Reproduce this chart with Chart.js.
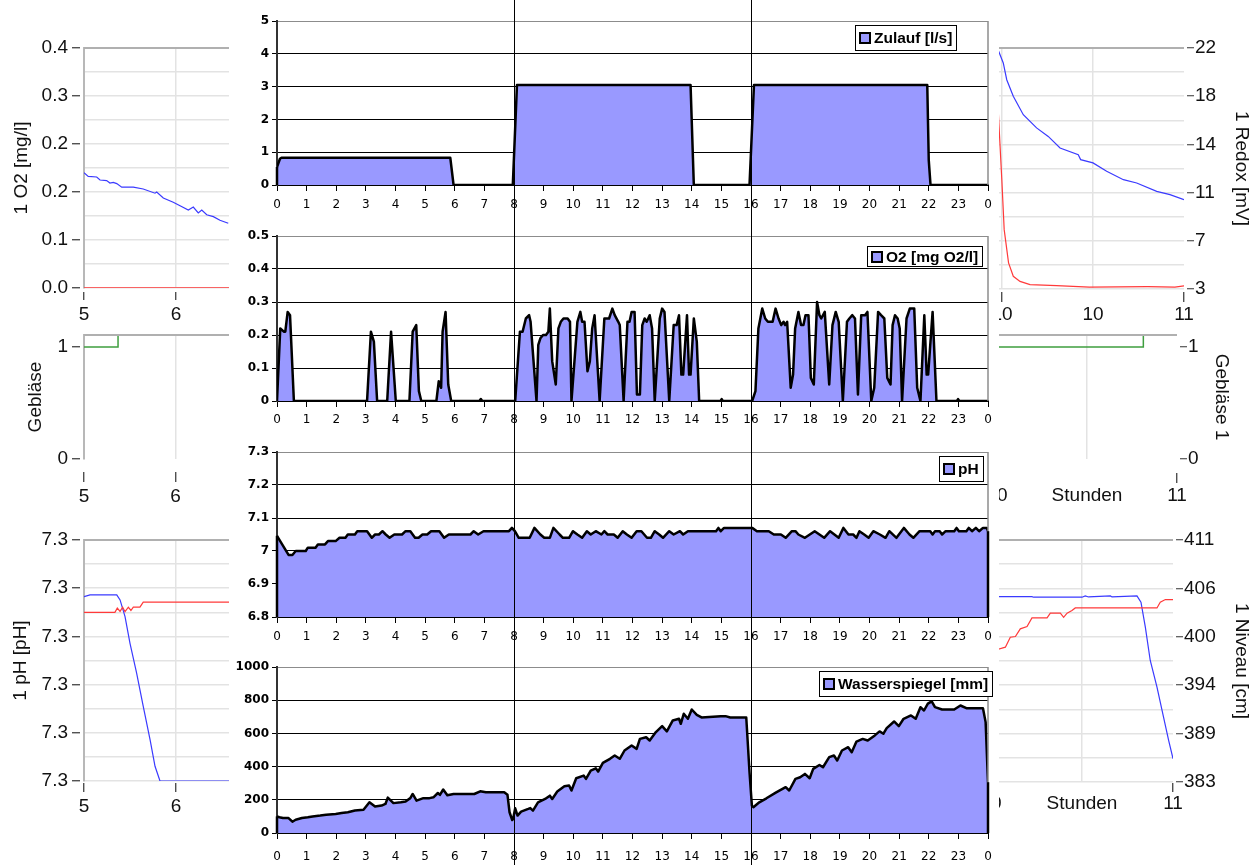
<!DOCTYPE html>
<html><head><meta charset="utf-8">
<script src="https://cdn.jsdelivr.net/npm/chart.js@4.4.1/dist/chart.umd.min.js"></script>
<style>
html,body{margin:0;padding:0;background:#fff;width:1260px;height:865px;overflow:hidden;}
.box{position:absolute;}
.side{z-index:1;}
.center{z-index:2;background:#fff;}
canvas{display:block;}
</style></head><body>
<script>
// ================= DATA =================
// central panels: x = hour of day (0..24), tick labels shown as hour % 24
const hourTicks = [0,1,2,3,4,5,6,7,8,9,10,11,12,13,14,15,16,17,18,19,20,21,22,23,24];
const splitHours = [8, 16];

const zulaufLabel = 'Zulauf [l/s]';
const zulaufTicks = [0,1,2,3,4,5];
const zulaufT = [0, 0.1, 0.15, 5.85, 5.96, 7.96, 8.1, 13.96, 14.07, 15.95, 16.1, 21.95, 22.0, 22.06, 24];
const zulaufV = [0.55, 0.8, 0.83, 0.83, 0, 0, 3.05, 3.05, 0, 0, 3.05, 3.05, 0.76, 0, 0];

const o2Label = 'O2 [mg O2/l]';
const o2Ticks = [0,0.1,0.2,0.3,0.4,0.5];
const o2T = [0,0.11,0.23,0.28,0.36,0.44,0.57,
 3.04,3.17,3.27,3.38, 3.72,3.85,4.01, 4.47,4.58,4.7,4.79,4.87,
 5.38,5.46,5.54,5.59,5.69,5.78,5.88, 6.83,6.88,6.93,
 8.04,8.2,8.29,8.4,8.51,8.56,8.76,
 8.82,8.89,8.98,9.08,9.16,9.21,9.29,9.41,9.5,9.58,9.67,9.81,9.89,9.94,
 10.14,10.24,10.3,10.38,10.48,10.56,10.64,10.72,10.89,
 11.05,11.12,11.21,11.32,11.4,11.52,11.57,11.7,
 11.83,11.9,11.97,12.07,12.15,12.25,12.33,12.41,12.48,12.58,12.66,12.75,
 12.92,13.0,13.08,13.24,
 13.39,13.49,13.57,13.65,13.71,13.84,13.91,13.96,14.07,14.17,14.25,
 14.97,15.01,15.05,
 16.04,16.15,16.25,16.38,16.48,16.57,16.73,16.83,16.93,17.02,17.1,17.15,17.22,17.34,17.42,17.49,17.6,17.69,17.77,17.84,17.94,18.02,18.12,18.23,18.31,18.37,18.49,18.64,18.75,18.86,18.96,19.1,
 19.24,19.32,19.42,19.51,19.61,19.72,19.85,19.93,20.06,
 20.16,20.29,20.39,20.5,20.6,20.71,20.78,20.86,20.95,21.02,21.1,
 21.25,21.36,21.51,21.61,21.72,21.85,21.93,21.98,22.13,22.26,
 22.95,22.99,23.03, 24];
const o2V = [0,0.22,0.21,0.21,0.27,0.26,0,
 0,0.21,0.18,0, 0,0.21,0, 0,0.21,0.23,0.03,0,
 0,0.06,0.04,0.21,0.27,0.05,0, 0,0.006,0,
 0,0.21,0.21,0.25,0.26,0.24,0,
 0.17,0.19,0.2,0.2,0.21,0.28,0.12,0.05,0.22,0.24,0.25,0.25,0.24,0,
 0.24,0.27,0.24,0.24,0.09,0.12,0.22,0.26,0,
 0.25,0.25,0.25,0.28,0.26,0.24,0.23,0,
 0.24,0.24,0.27,0.27,0.02,0.02,0.23,0.25,0.24,0.26,0.22,0,
 0.25,0.28,0.27,0,
 0.23,0.23,0.26,0.08,0.08,0.26,0.08,0.08,0.25,0.18,0,
 0,0.006,0,
 0,0.03,0.22,0.28,0.25,0.24,0.24,0.28,0.25,0.23,0.24,0.23,0.24,0.04,0.08,0.22,0.27,0.23,0.23,0.26,0.26,0.07,0.05,0.3,0.26,0.25,0.27,0.05,0.23,0.27,0.24,0,
 0.24,0.25,0.26,0.25,0.02,0.26,0.26,0.27,0,
 0.04,0.27,0.26,0.25,0.07,0.05,0.23,0.26,0.25,0.22,0,
 0.25,0.28,0.28,0.04,0,0.26,0.08,0.08,0.27,0,
 0,0.006,0, 0];

const phLabel = 'pH';
const phTicks = [6.8,6.9,7.0,7.1,7.2,7.3];
const phT = [0,0.39,0.52,0.63,0.97,1.04,1.3,1.38,1.62,1.72,1.98,2.11,2.31,2.39,2.63,2.71,3.04,3.2,3.31,3.44,3.56,3.67,3.8,3.96,4.22,4.34,4.5,4.66,4.78,4.91,5.07,5.2,5.48,5.64,5.8,6.53,6.64,6.79,6.97,7.83,7.93,8.03,8.16,8.53,8.69,8.89,9.02,9.21,9.33,9.54,9.65,9.86,9.99,10.14,10.3,10.46,10.59,10.76,10.95,11.05,11.16,11.37,11.5,11.67,11.81,11.97,12.14,12.3,12.49,12.62,12.75,12.9,13.03,13.24,13.39,13.6,13.71,13.87,14.82,14.9,14.98,15.09,16.04,16.2,16.6,16.77,17.01,17.17,17.38,17.5,17.6,17.82,18.15,18.31,18.47,18.67,18.96,19.12,19.29,19.45,19.56,19.66,19.82,19.97,20.13,20.35,20.54,20.67,20.91,21.16,21.35,21.48,21.69,22.05,22.13,22.21,22.37,22.45,22.57,22.86,22.94,23.02,23.27,23.35,23.46,23.59,23.7,23.83,23.96,24];
const phV = [7.046,6.988,6.988,7.0,7.0,7.01,7.01,7.02,7.02,7.03,7.03,7.04,7.04,7.05,7.05,7.06,7.06,7.04,7.05,7.05,7.06,7.05,7.04,7.05,7.05,7.06,7.06,7.04,7.04,7.05,7.05,7.06,7.06,7.04,7.05,7.05,7.06,7.05,7.06,7.06,7.07,7.06,7.04,7.04,7.07,7.05,7.04,7.04,7.07,7.05,7.04,7.04,7.06,7.05,7.04,7.06,7.05,7.06,7.05,7.06,7.05,7.05,7.04,7.06,7.05,7.04,7.06,7.06,7.04,7.04,7.06,7.05,7.04,7.06,7.05,7.06,7.05,7.06,7.06,7.07,7.06,7.07,7.07,7.06,7.06,7.05,7.05,7.04,7.06,7.06,7.05,7.04,7.06,7.05,7.04,7.06,7.04,7.07,7.05,7.05,7.04,7.06,7.05,7.04,7.06,7.05,7.04,7.06,7.04,7.07,7.05,7.04,7.06,7.06,7.05,7.06,7.06,7.05,7.06,7.06,7.07,7.06,7.06,7.07,7.06,7.07,7.06,7.07,7.07,7.06];

const wasserLabel = 'Wasserspiegel [mm]';
const wasserTicks = [0,200,400,600,800,1000];
const wasserT = [0,0.08,0.2,0.39,0.52,0.63,0.84,1.04,1.2,1.46,1.66,1.98,2.18,2.39,2.63,2.92,3.12,3.31,3.53,3.66,3.74,3.93,4.18,4.34,4.5,4.58,4.71,4.94,5.15,5.28,5.43,5.5,5.61,5.75,5.96,6.66,6.86,7.05,7.67,7.78,7.85,7.94,7.97,8.04,8.12,8.24,8.48,8.55,8.64,8.81,9.05,9.21,9.29,9.46,9.7,9.86,9.94,10.1,10.35,10.43,10.59,10.76,10.84,11.0,11.24,11.4,11.57,11.73,11.97,12.14,12.25,12.46,12.58,12.79,13.0,13.16,13.36,13.57,13.63,13.73,13.87,14.0,14.17,14.33,14.98,15.14,15.3,15.84,15.95,16.03,16.08,16.28,16.52,16.85,17.17,17.29,17.5,17.66,17.82,17.98,18.1,18.31,18.43,18.64,18.8,18.91,19.07,19.28,19.4,19.56,19.77,19.94,20.18,20.34,20.47,20.58,20.83,20.99,21.15,21.4,21.56,21.72,21.84,21.97,22.1,22.21,22.45,22.86,23.07,23.27,23.83,23.92,24.0];
const wasserV = [100,95,90,90,68,80,90,95,100,105,110,115,120,125,135,140,185,159,165,175,213,180,185,190,210,235,195,210,210,215,241,230,262,227,235,235,251,245,245,230,125,78,85,149,105,129,145,150,135,185,205,225,205,250,282,286,256,330,346,326,376,390,370,422,447,467,447,497,527,507,567,577,557,608,644,612,678,688,658,718,688,744,712,696,704,704,696,696,366,165,155,185,209,245,276,256,326,336,356,330,386,410,396,457,467,437,497,517,487,551,567,557,588,612,598,632,672,644,688,708,688,758,738,779,793,758,744,744,768,752,752,668,306];

// side panels (x = hours, ticks every half hour, labels rounded)
const o2LeftTitle = '1 O2 [mg/l]';
const o2LeftBlueT = [5.0,5.023,5.069,5.087,5.123,5.141,5.159,5.178,5.205,5.268,5.322,5.386,5.395,5.431,5.485,5.522,5.567,5.594,5.621,5.64,5.667,5.703,5.739,5.784];
const o2LeftBlueV = [0.192,0.186,0.185,0.180,0.179,0.175,0.176,0.174,0.168,0.168,0.165,0.158,0.160,0.150,0.143,0.137,0.130,0.135,0.125,0.130,0.122,0.119,0.113,0.108];
const o2LeftRedT = [5.0, 5.8];
const o2LeftRedV = [0, 0];

const gebLeftTitle = 'Gebläse';
const gebLeftT = [5.0, 5.186, 5.186, 6.0];
const gebLeftV = [1, 1, 2, 2];

const phLeftTitle = '1 pH [pH]';
const phLeftBlueT = [5.0,5.033,5.178,5.196,5.223,5.25,5.286,5.322,5.359,5.386,5.413,5.8];
const phLeftBlueV = [7.3212,7.3218,7.3218,7.3201,7.3146,7.3057,7.2958,7.2848,7.2737,7.2649,7.26,7.26];
const phLeftRedT = [5.0,5.168,5.181,5.196,5.21,5.223,5.241,5.255,5.268,5.304,5.322,5.8];
const phLeftRedV = [7.316,7.316,7.3174,7.3163,7.3177,7.3162,7.3177,7.3166,7.3177,7.3177,7.3194,7.3194];

const redoxTitle = '1 Redox [mV]';
const redoxBlueT = [9.48,9.507,9.526,9.562,9.617,9.69,9.754,9.819,9.919,9.932,10.0,10.075,10.167,10.24,10.35,10.423,10.5];
const redoxBlueV = [21.81,20.82,19.5,18.19,16.74,15.7,15.03,14.12,13.59,13.2,12.94,12.28,11.62,11.36,10.7,10.44,10.05];
const redoxRedT = [9.48,9.499,9.512,9.536,9.562,9.599,9.654,9.80,9.98,10.3,10.45,10.5];
const redoxRedV = [16.88,11.62,7.68,5.06,4.0,3.6,3.34,3.26,3.15,3.18,3.15,3.25];

const gebRightTitle = 'Gebläse 1';
const gebRightT = [9.24, 10.313, 10.313, 10.5];
const gebRightV = [1, 1, 2, 2];

const nivTitle = '1 Niveau [cm]';
const nivBlueT = [9.53,9.725,9.734,10.0,10.018,10.036,10.156,10.165,10.302,10.324,10.348,10.375,10.412,10.448,10.476,10.5];
const nivBlueV = [404.65,404.65,404.58,404.58,404.73,404.61,404.73,404.61,404.73,404.0,401.11,397.26,394.18,390.71,388.02,385.9];
const nivRedT = [9.53,9.579,9.606,9.634,9.661,9.698,9.725,9.808,9.826,9.881,9.899,9.918,9.945,9.963,10.412,10.43,10.458,10.5];
const nivRedV = [398.5,398.8,399.95,400.03,400.92,401.19,402.19,402.19,402.73,402.73,402.26,402.73,403.04,403.34,403.34,404.0,404.31,404.31];

const stundenLabel = 'Stunden';

// ================= HELPERS =================
const xy = (T, V) => T.map((t, i) => ({x: t, y: V[i]}));
const range = (a, b, n) => Array.from({length: n + 1}, (_, i) => a + (b - a) * i / n);
const forceTicks = arr => s => { s.ticks = arr.map(v => ({value: v})); };
const fixW = w => s => { s.width = w; };
const fixH = h => s => { s.height = h; };
const CLEAR = 'rgba(0,0,0,0)';

function place(box, cls) {
  const d = document.createElement('div');
  d.className = 'box ' + cls;
  d.style.left = box.left + 'px'; d.style.top = box.top + 'px';
  d.style.width = box.width + 'px'; d.style.height = box.height + 'px';
  const c = document.createElement('canvas');
  c.width = box.width; c.height = box.height;
  c.style.width = box.width + 'px'; c.style.height = box.height + 'px';
  d.appendChild(c); document.body.appendChild(d);
  return c;
}

// ================= PLUGINS =================
const dayLines = {
  id: 'dayLines',
  afterDatasetsDraw(chart, args, o) {
    if (!o || !o.values) return;
    const {ctx} = chart, xs = chart.scales.x;
    ctx.save(); ctx.strokeStyle = '#000'; ctx.lineWidth = 1;
    o.values.forEach(v => {
      const x = Math.round(xs.getPixelForValue(v)) + 0.5;
      ctx.beginPath(); ctx.moveTo(x, 0); ctx.lineTo(x, chart.height); ctx.stroke();
    });
    ctx.restore();
  }
};
const areaFrame = {
  id: 'areaFrame',
  afterDatasetsDraw(chart) {
    const {ctx, chartArea: a} = chart, xs = chart.scales.x, ys = chart.scales.y;
    ctx.save();
    ctx.strokeStyle = '#8c8c8c'; ctx.lineWidth = 1.5;
    ctx.beginPath(); ctx.moveTo(a.right, a.top); ctx.lineTo(a.right, a.bottom); ctx.stroke();
    const d = chart.data.datasets[0].data, base = ys.getPixelForValue(ys.min);
    ctx.strokeStyle = '#000'; ctx.lineWidth = 2.5;
    [d[0], d[d.length - 1]].forEach(p => {
      const x = xs.getPixelForValue(p.x);
      ctx.beginPath(); ctx.moveTo(x, ys.getPixelForValue(p.y)); ctx.lineTo(x, base); ctx.stroke();
    });
    ctx.restore();
  }
};
const boxLegend = {
  id: 'boxLegend',
  afterDraw(chart, args, o) {
    if (!o || o.right === undefined) return;
    const {ctx} = chart, ds = chart.data.datasets[0];
    ctx.save();
    ctx.font = 'bold 15.5px "Liberation Sans", Arial, sans-serif';
    const tw = ctx.measureText(ds.label).width;
    const icon = 10, padL = 5, gap = 4, padR = 5;
    const w = Math.round(padL + icon + gap + tw + padR);
    const x = o.right - o.offX - w, y = o.top - o.offY, h = o.height;
    ctx.fillStyle = '#fff'; ctx.fillRect(x, y, w, h);
    ctx.strokeStyle = '#000'; ctx.lineWidth = 1; ctx.strokeRect(x + 0.5, y + 0.5, w - 1, h - 1);
    const iy = Math.round(y + (h - icon) / 2);
    ctx.fillStyle = ds.backgroundColor; ctx.fillRect(x + padL, iy, icon, icon);
    ctx.lineWidth = 2; ctx.strokeStyle = '#000'; ctx.strokeRect(x + padL, iy, icon, icon);
    ctx.fillStyle = '#000'; ctx.textBaseline = 'middle'; ctx.textAlign = 'left';
    ctx.fillText(ds.label, x + padL + icon + gap, y + h / 2 + 1);
    ctx.restore();
  }
};
const sideTop = {
  id: 'sideTop',
  afterDraw(chart) {
    const {ctx, chartArea: a} = chart;
    ctx.save(); ctx.strokeStyle = '#b0b0b0'; ctx.lineWidth = 2;
    ctx.beginPath(); ctx.moveTo(a.left, Math.round(a.top)); ctx.lineTo(a.right, Math.round(a.top)); ctx.stroke();
    ctx.restore();
  }
};

// ================= CENTRAL CHARTS =================
function centralChart(box, area, T, V, label, yTicks, xDrop, legend) {
  const cv = place(box, 'center');
  const yMax = yTicks[yTicks.length - 1];
  return new Chart(cv, {
    type: 'line',
    data: {datasets: [{label, data: xy(T, V), borderColor: '#000', borderWidth: 2.5,
      backgroundColor: '#9999ff', fill: 'start', pointRadius: 0, tension: 0, borderJoinStyle: 'round'}]},
    options: {
      responsive: false, animation: false, events: [],
      layout: {autoPadding: false, padding: {top: area.t - box.top, left: 0, right: box.left + box.width - area.r, bottom: 0}},
      plugins: {legend: {display: false}, tooltip: {enabled: false},
        dayLines: {values: splitHours},
        boxLegend: Object.assign({offX: box.left, offY: box.top}, legend)},
      scales: {
        x: {type: 'linear', min: 0, max: 24, afterBuildTicks: forceTicks(hourTicks), afterFit: fixH(box.top + box.height - area.b),
          ticks: {autoSkip: false, maxRotation: 0, padding: 0, color: '#000',
            font: {family: 'DejaVu Sans', size: 12}, callback: v => String(v % 24)},
          grid: {drawOnChartArea: false, drawTicks: true, tickLength: 5 + xDrop, tickBorderDash: [5, 200],
            tickColor: '#000', tickWidth: 1},
          border: {display: true, color: '#000', width: 2}},
        y: {min: yTicks[0], max: yMax, afterBuildTicks: forceTicks(yTicks), afterFit: fixW(area.l - box.left),
          ticks: {autoSkip: false, padding: 3, color: '#000',
            font: {family: 'DejaVu Sans', size: 12, weight: 'bold'}, callback: v => String(+(+v).toFixed(2))},
          grid: {color: c => (c.tick && Math.abs(c.tick.value - yMax) < 1e-9) ? '#8c8c8c' : '#000',
            lineWidth: 1, tickLength: 5, tickColor: '#000'},
          border: {display: true, color: '#333', width: 2}}
      }
    },
    plugins: [dayLines, areaFrame, boxLegend]
  });
}

centralChart({left: 229, top: 0, width: 770, height: 215}, {l: 277, t: 21, r: 988, b: 185},
  zulaufT, zulaufV, zulaufLabel, zulaufTicks, 8, {right: 957, top: 25, height: 26});
centralChart({left: 229, top: 215, width: 770, height: 215}, {l: 277, t: 236, r: 988, b: 401},
  o2T, o2V, o2Label, o2Ticks, 7, {right: 983, top: 246, height: 21});
centralChart({left: 229, top: 430, width: 770, height: 215}, {l: 277, t: 452, r: 988, b: 617},
  phT, phV, phLabel, phTicks, 8, {right: 984, top: 456, height: 26});
centralChart({left: 229, top: 645, width: 770, height: 220}, {l: 277, t: 667, r: 988, b: 833},
  wasserT, wasserV, wasserLabel, wasserTicks, 12, {right: 993, top: 671, height: 26});

// ================= SIDE CHARTS =================
const sideFont = {family: 'Liberation Sans', size: 19};
function sideChart(box, area, o) {
  const cv = place(box, 'side');
  const yRight = o.yPos === 'right';
  const n = o.yTicks.length;
  return new Chart(cv, {
    type: 'line',
    data: {datasets: o.datasets.map(d => ({data: d.data, borderColor: d.color, borderWidth: d.w || 1.2,
      pointRadius: 0, tension: 0, fill: false}))},
    options: {
      responsive: false, animation: false, events: [],
      layout: {autoPadding: false, padding: {top: area.t - box.top, bottom: 0,
        left: yRight ? area.l - box.left : 0, right: yRight ? 0 : box.left + box.width - area.r}},
      plugins: {legend: {display: false}, tooltip: {enabled: false}},
      scales: {
        x: {type: 'linear', min: o.xMin, max: o.xMax, afterBuildTicks: forceTicks(o.xTicks),
          afterFit: fixH(box.top + box.height - area.b),
          ticks: {autoSkip: false, maxRotation: 0, padding: o.xPad, color: '#111', font: sideFont, callback: o.xLabel},
          grid: {color: c => (c.tick && c.tick.value >= o.xMax - 1e-9) ? CLEAR : '#e3e3e3', lineWidth: 1.5,
            tickLength: o.xTick[0] + o.xTick[1], tickBorderDash: [0, o.xTick[0], o.xTick[1], 200],
            tickColor: c => (o.xNoTick && c.tick && o.xNoTick.includes(c.tick.value)) ? CLEAR : '#333', tickWidth: 1.2},
          border: {display: false}},
        y: {position: o.yPos, min: o.yTicks[0], max: o.yTicks[n - 1], afterBuildTicks: forceTicks(o.yTicks),
          afterFit: fixW(yRight ? box.left + box.width - area.r : area.l - box.left),
          ticks: {autoSkip: false, padding: o.yPad, color: '#111', font: sideFont, callback: o.yLabel},
          grid: {color: c => o.yGrid(c.index, n), lineWidth: 1.5,
            tickLength: o.yTick[0] + o.yTick[1],
            tickBorderDash: yRight ? [0, o.yTick[0], o.yTick[1], 200] : [o.yTick[1], 200],
            tickColor: c => o.yMajor(c.index, n) ? '#333' : CLEAR, tickWidth: 1.2},
          border: {display: !yRight, color: '#b8b8b8', width: 2},
          title: {display: true, text: o.title, font: sideFont, color: '#111', padding: {top: o.titlePad, bottom: 0}}}
      }
    },
    plugins: [sideTop]
  });
}
const BLUE = '#3a3aff', RED = '#ff3a3a', GREEN = '#3f9f3f';
const evenMajor = (i) => i % 2 === 0;
const gridMinor = (i, n) => i === n - 1 ? '#c2c2c2' : '#e3e3e3';
const gridTopOnly = (i, n) => i === n - 1 ? '#c2c2c2' : CLEAR;
const roundLabel = v => String(Math.round(v));

// left O2
sideChart({left: 0, top: 0, width: 300, height: 330}, {l: 84, t: 48, r: 300, b: 288}, {
  yPos: 'left', xMin: 5, xMax: 5 + 216 / 184, xTicks: [5, 5.5, 6], xLabel: roundLabel, xPad: 3, xTick: [4, 8],
  yTicks: range(0, 0.4, 10), yLabel: (v, i) => i % 2 ? '' : (+v).toFixed(1), yMajor: evenMajor, yGrid: gridMinor,
  yTick: [4, 8], yPad: 4, title: o2LeftTitle, titlePad: 10,
  datasets: [{data: xy(o2LeftRedT, o2LeftRedV), color: RED, w: 1.5}, {data: xy(o2LeftBlueT, o2LeftBlueV), color: BLUE}]
});
// left Gebläse
sideChart({left: 0, top: 310, width: 300, height: 200}, {l: 84, t: 335, r: 300, b: 459}, {
  yPos: 'left', xMin: 5, xMax: 5 + 216 / 183, xTicks: [5, 5.5, 6], xLabel: roundLabel, xPad: 3, xTick: [13, 10],
  yTicks: [0, 1, 1.107], yLabel: (v, i) => i === 2 ? '' : roundLabel(v), yMajor: i => i < 2, yGrid: gridTopOnly,
  yTick: [4, 8], yPad: 4, title: gebLeftTitle, titlePad: 24,
  datasets: [{data: xy(gebLeftT, gebLeftV), color: GREEN, w: 1.5}]
});
// left pH
sideChart({left: 0, top: 510, width: 300, height: 355}, {l: 84, t: 540, r: 300, b: 781}, {
  yPos: 'left', xMin: 5, xMax: 5 + 216 / 184, xTicks: [5, 5.5, 6], xLabel: roundLabel, xPad: 3, xTick: [2, 9],
  yTicks: range(7.26, 7.34, 10), yLabel: (v, i) => i % 2 ? '' : (+v).toFixed(1), yMajor: evenMajor, yGrid: gridMinor,
  yTick: [4, 8], yPad: 4, title: phLeftTitle, titlePad: 9,
  datasets: [{data: xy(phLeftRedT, phLeftRedV), color: RED}, {data: xy(phLeftBlueT, phLeftBlueV), color: BLUE}]
});
// right Redox
sideChart({left: 956, top: 0, width: 304, height: 330}, {l: 956, t: 48, r: 1184, b: 289}, {
  yPos: 'right', xMin: 10.5 - 228 / 182, xMax: 10.5, xTicks: [9.5, 10, 10.5], xLabel: roundLabel, xPad: 1, xTick: [3, 10],
  xNoTick: [10],
  yTicks: range(3, 22, 10), yLabel: (v, i) => i % 2 ? '' : roundLabel(v), yMajor: evenMajor, yGrid: gridMinor,
  yTick: [3, 7], yPad: 1, title: redoxTitle, titlePad: 7,
  datasets: [{data: xy(redoxRedT, redoxRedV), color: RED}, {data: xy(redoxBlueT, redoxBlueV), color: BLUE}]
});
// right Gebläse
sideChart({left: 950, top: 310, width: 310, height: 200}, {l: 950, t: 335, r: 1177, b: 459}, {
  yPos: 'right', xMin: 10.5 - 227 / 180, xMax: 10.5, xTicks: [9.5, 10, 10.5],
  xLabel: v => v === 10 ? stundenLabel : roundLabel(v), xPad: 1, xTick: [14, 10], xNoTick: [10],
  yTicks: [0, 1, 1.107], yLabel: (v, i) => i === 2 ? '' : roundLabel(v), yMajor: i => i < 2, yGrid: gridTopOnly,
  yTick: [3, 7], yPad: 1, title: gebRightTitle, titlePad: 27,
  datasets: [{data: xy(gebRightT, gebRightV), color: GREEN, w: 1.5}]
});
// right Niveau
sideChart({left: 945, top: 510, width: 315, height: 355}, {l: 945, t: 540, r: 1173, b: 782}, {
  yPos: 'right', xMin: 10.5 - 228 / 182, xMax: 10.5, xTicks: [9.5, 10, 10.5],
  xLabel: v => v === 10 ? stundenLabel : roundLabel(v), xPad: 0, xTick: [1, 9], xNoTick: [10],
  yTicks: range(383.2, 411.2, 10), yLabel: (v, i) => i % 2 ? '' : roundLabel(v), yMajor: evenMajor, yGrid: gridMinor,
  yTick: [3, 7], yPad: 1, title: nivTitle, titlePad: 7,
  datasets: [{data: xy(nivRedT, nivRedV), color: RED}, {data: xy(nivBlueT, nivBlueV), color: BLUE}]
});
</script>
</body></html>
